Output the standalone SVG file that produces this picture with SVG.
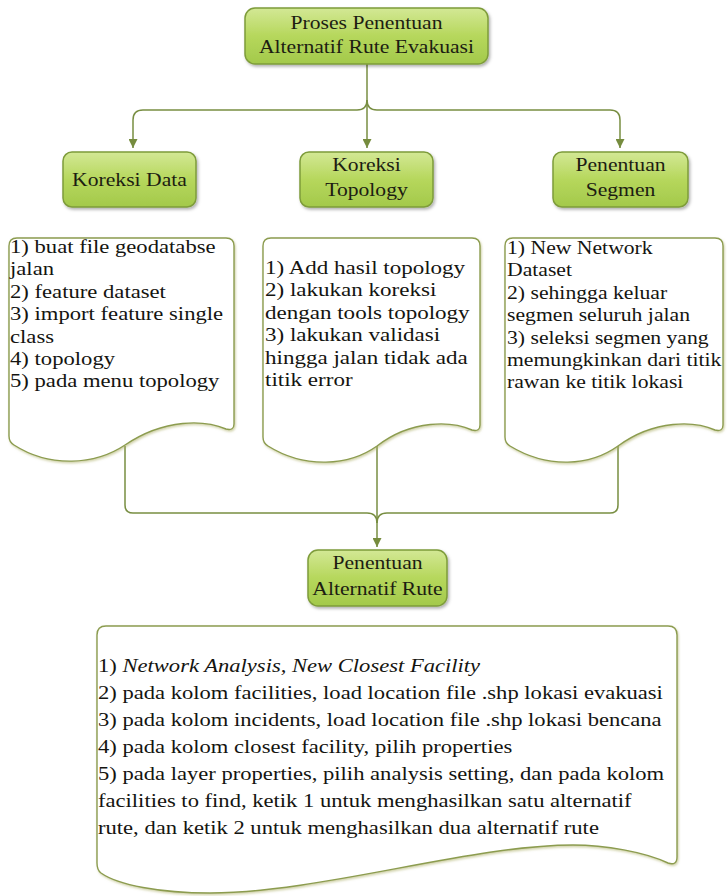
<svg xmlns="http://www.w3.org/2000/svg" width="728" height="896" viewBox="0 0 728 896">
<defs>
<linearGradient id="gNode" x1="0" y1="0" x2="0" y2="1">
<stop offset="0" stop-color="#d3e895"/>
<stop offset="0.5" stop-color="#b6d75c"/>
<stop offset="1" stop-color="#a3c94b"/>
</linearGradient>
<filter id="shNode" x="-10%" y="-10%" width="125%" height="135%">
<feDropShadow dx="1.5" dy="2" stdDeviation="1.5" flood-color="#000" flood-opacity="0.3"/>
</filter>
<filter id="shDoc" x="-5%" y="-5%" width="112%" height="115%">
<feDropShadow dx="1" dy="1.5" stdDeviation="1.3" flood-color="#a8aa60" flood-opacity="0.55"/>
</filter>
<marker id="arr" viewBox="0 0 10 10" refX="10" refY="5" markerWidth="9" markerHeight="9" markerUnits="userSpaceOnUse" orient="auto">
<path d="M0,0 L10,5 L0,10 Z" fill="#768c3e"/>
</marker>
<style>
.node rect{fill:url(#gNode);stroke:#7e9c3a;stroke-width:1.5;filter:url(#shNode)}
.doc path{fill:#fff;stroke:#8c9c50;stroke-width:1.4;filter:url(#shDoc)}
.nt{font-family:"Liberation Serif","Times New Roman",serif;font-size:18.5px;fill:#1d1d12;text-anchor:middle}
.dt{font-family:"Liberation Serif","Times New Roman",serif;font-size:19.2px;fill:#141410}
.bt{font-family:"Liberation Serif","Times New Roman",serif;font-size:19.3px;fill:#141410}
.con path{fill:none;stroke:#788e42;stroke-width:1.5}
</style>
</defs>
<rect width="728" height="896" fill="#fff"/>

<g id="connectors" class="con">
<path d="M367,63 L367,148" marker-end="url(#arr)"/>
<path d="M367,100 Q367,110 357,110 L143,110 Q133,110 133,120 L133,148" marker-end="url(#arr)"/>
<path d="M367,100 Q367,110 377,110 L610,110 Q620,110 620,120 L620,148" marker-end="url(#arr)"/>
<path d="M125,446 L125,505 Q125,513 133,513 L367,513 Q377,513 377,523"/>
<path d="M618,446 L618,505 Q618,513 610,513 L387,513 Q377,513 377,523"/>
<path d="M377,446 L377,547" marker-end="url(#arr)"/>
</g>

<g id="n-proses" class="node">
<rect x="245" y="8" width="243" height="56" rx="10"/>
<text class="nt" transform="translate(366.5,29) scale(1.17,1)">Proses Penentuan</text>
<text class="nt" transform="translate(366.5,53) scale(1.17,1)">Alternatif Rute Evakuasi</text>
</g>

<g id="n-koreksi-data" class="node">
<rect x="63" y="152" width="133" height="55" rx="9"/>
<text class="nt" transform="translate(129.5,186) scale(1.17,1)">Koreksi Data</text>
</g>

<g id="n-koreksi-topology" class="node">
<rect x="300" y="152" width="133" height="55" rx="9"/>
<text class="nt" transform="translate(366.5,171) scale(1.17,1)">Koreksi</text>
<text class="nt" transform="translate(366.5,196) scale(1.17,1)">Topology</text>
</g>

<g id="n-penentuan-segmen" class="node">
<rect x="553" y="152" width="135" height="55" rx="9"/>
<text class="nt" transform="translate(620.5,171) scale(1.17,1)">Penentuan</text>
<text class="nt" transform="translate(620.5,196) scale(1.17,1)">Segmen</text>
</g>

<g id="d-koreksi-data" class="doc">
<path d="M17,238 L226,238 Q234,238 234,246 L234,424 Q234,431 226,429 C205,420 165,418 125,445 C95,465 50,468 14,445 Q9,442 9,436 L9,246 Q9,238 17,238 Z"/>
<text class="dt" transform="translate(10,253) scale(1.18,1)">
<tspan x="0" y="0">1) buat file geodatabse</tspan>
<tspan x="0" y="22.4">jalan</tspan>
<tspan x="0" y="44.8">2) feature dataset</tspan>
<tspan x="0" y="67.2">3) import feature single</tspan>
<tspan x="0" y="89.6">class</tspan>
<tspan x="0" y="112">4) topology</tspan>
<tspan x="0" y="134.4">5) pada menu topology</tspan>
</text>
</g>

<g id="d-koreksi-topology" class="doc">
<path d="M271,238 L472,238 Q480,238 480,246 L480,425 Q480,432 472,430 C452,421 412,419 377,446 C349,466 305,469 268,446 Q263,443 263,437 L263,246 Q263,238 271,238 Z"/>
<text class="dt" transform="translate(265,274) scale(1.2,1)">
<tspan x="0" y="0">1) Add hasil topology</tspan>
<tspan x="0" y="22.4">2) lakukan koreksi</tspan>
<tspan x="0" y="44.8">dengan tools topology</tspan>
<tspan x="0" y="67.2">3) lakukan validasi</tspan>
<tspan x="0" y="89.6">hingga jalan tidak ada</tspan>
<tspan x="0" y="112">titik error</tspan>
</text>
</g>

<g id="d-penentuan-segmen" class="doc">
<path d="M513,238 L715,238 Q723,238 723,246 L723,425 Q723,432 715,430 C695,421 655,419 618,446 C590,466 548,469 510,446 Q505,443 505,437 L505,246 Q505,238 513,238 Z"/>
<text class="dt" transform="translate(507,254) scale(1.13,1)">
<tspan x="0" y="0">1) New Network</tspan>
<tspan x="0" y="22.4">Dataset</tspan>
<tspan x="0" y="44.8">2) sehingga keluar</tspan>
<tspan x="0" y="67.2">segmen seluruh jalan</tspan>
<tspan x="0" y="89.6">3) seleksi segmen yang</tspan>
<tspan x="0" y="112">memungkinkan dari titik</tspan>
<tspan x="0" y="134.4">rawan ke titik lokasi</tspan>
</text>
</g>

<g id="n-penentuan-alternatif" class="node">
<rect x="308" y="550" width="139" height="56" rx="10"/>
<text class="nt" transform="translate(377.5,569) scale(1.17,1)">Penentuan</text>
<text class="nt" transform="translate(377.5,595) scale(1.17,1)">Alternatif Rute</text>
</g>

<g id="d-penentuan-alternatif" class="doc">
<path d="M106,626 L668,626 Q677,626 677,635 L677,857 Q677,866 668,863 C645,852 605,845 573,845 C470,845 320,893 210,893 C160,893 118,885 101,873 Q97,870 97,863 L97,635 Q97,626 106,626 Z"/>
<text class="bt" transform="translate(98,672) scale(1.17,1)">
<tspan x="0" y="0">1) <tspan font-style="italic">Network Analysis, New Closest Facility</tspan></tspan>
<tspan x="0" y="27">2) pada kolom facilities, load location file .shp lokasi evakuasi</tspan>
<tspan x="0" y="54">3) pada kolom incidents, load location file .shp lokasi bencana</tspan>
<tspan x="0" y="81">4) pada kolom closest facility, pilih properties</tspan>
<tspan x="0" y="108">5) pada layer properties, pilih analysis setting, dan pada kolom</tspan>
<tspan x="0" y="135">facilities to find, ketik 1 untuk menghasilkan satu alternatif</tspan>
<tspan x="0" y="162">rute, dan ketik 2 untuk menghasilkan dua alternatif rute</tspan>
</text>
</g>
</svg>
